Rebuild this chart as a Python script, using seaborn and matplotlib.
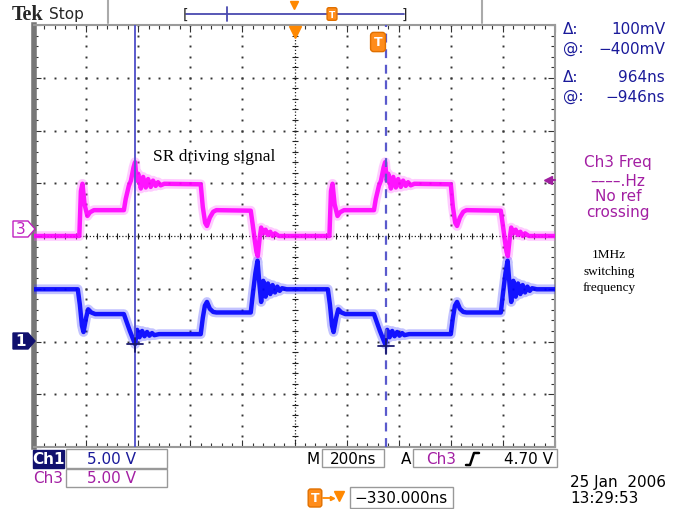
import numpy as np
import pandas as pd
import matplotlib
matplotlib.use("Agg")
import matplotlib.pyplot as plt
import seaborn as sns
from matplotlib.patches import Rectangle, Polygon
from matplotlib.lines import Line2D

# ---------------- data (time in ns, amplitude in divisions) ----------------
ch3_t = [-1000, -826, -820, -814, -806, -795, -785, -770, -655, -648, -636, -628, -618, -612, -606,
         -600, -590, -581, -571, -562, -552, -543, -533, -524, -514, -500, -360, -352, -343, -336,
         -325, -312, -300, -168, -160, -152, -146, -141, -134, -128, -120, -111, -102, -93, -84, -75, -60,
         134, 140, 146, 154, 165, 175, 190, 305, 312, 324, 332, 342, 348, 354,
         360, 370, 379, 389, 398, 408, 417, 427, 436, 446, 460, 600, 608, 617, 624,
         635, 648, 660, 792, 800, 808, 814, 819, 826, 832, 840, 849, 858, 867, 876, 885, 900, 1000]
ch3_v = [0.0, 0.0, 0.85, 0.99, 0.60, 0.38, 0.45, 0.49, 0.49, 0.70, 0.95, 1.05, 1.30, 1.40, 1.05,
         1.18, 0.90, 1.12, 0.92, 1.08, 0.93, 1.05, 0.95, 1.02, 0.96, 0.99, 0.98, 0.55, 0.25, 0.19,
         0.35, 0.46, 0.49, 0.48, 0.20, -0.10, -0.30, -0.38, -0.05, 0.16, 0.05, 0.12, 0.02, 0.08, 0.0, 0.05, 0.0,
         0.0, 0.85, 0.99, 0.60, 0.38, 0.45, 0.49, 0.49, 0.70, 0.95, 1.05, 1.30, 1.40, 1.05,
         1.18, 0.90, 1.12, 0.92, 1.08, 0.93, 1.05, 0.95, 1.02, 0.96, 0.99, 0.98, 0.55, 0.25, 0.19,
         0.35, 0.46, 0.49, 0.48, 0.20, -0.10, -0.30, -0.38, -0.05, 0.16, 0.05, 0.12, 0.02, 0.08, 0.0, 0.05, 0.0, 0.0]

ch1_t = [-1000, -832, -824, -816, -810, -800, -792, -780, -765, -655, -645, -632, -620, -612,
         -604, -595, -585, -576, -566, -557, -547, -538, -520, -360, -352, -344, -336, -325, -312,
         -300, -168, -160, -150, -142, -134, -128, -120, -111, -102, -93, -84, -75, -66, -57, -48, -30,
         128, 136, 144, 150, 160, 168, 180, 195, 305, 315, 328, 340, 348,
         356, 365, 375, 384, 394, 403, 413, 422, 440, 600, 608, 616, 624, 635, 648,
         660, 792, 800, 810, 818, 826, 832, 840, 849, 858, 867, 876, 885, 894, 903, 912, 930, 1000]
ch1_v = [-1.01, -1.01, -1.30, -1.70, -1.82, -1.55, -1.39, -1.45, -1.48, -1.48, -1.62, -1.80, -1.95, -2.05,
         -1.78, -1.92, -1.80, -1.90, -1.82, -1.89, -1.84, -1.88, -1.86, -1.86, -1.55, -1.32, -1.25, -1.38, -1.44,
         -1.45, -1.45, -1.10, -0.70, -0.47, -0.95, -1.25, -0.85, -1.15, -0.90, -1.10, -0.93, -1.07, -0.96, -1.04, -0.99, -1.01,
         -1.01, -1.30, -1.70, -1.82, -1.55, -1.39, -1.45, -1.48, -1.48, -1.62, -1.80, -1.95, -2.05,
         -1.78, -1.92, -1.80, -1.90, -1.82, -1.89, -1.84, -1.88, -1.86, -1.86, -1.55, -1.32, -1.25, -1.38, -1.44,
         -1.45, -1.45, -1.10, -0.70, -0.47, -0.95, -1.25, -0.85, -1.15, -0.90, -1.10, -0.93, -1.07, -0.96, -1.04, -0.99, -1.01, -1.01]

cursor_t = [-612, 352]
cursor_cross_v = [-2.05, -2.08]
trig_level_div = 1.06

readout_labels = ["Δ:", "@:", "Δ:", "@:"]
readout_values = ["100mV", "−400mV", "964ns", "−946ns"]
freq_lines = ["Ch3 Freq", "––––.Hz", "No ref", "crossing"]
note_lines = ["1MHz", "switching", "frequency"]
annotation = "SR driving signal"

# ---------------- figure ----------------
sns.set_style("white")
plt.rcParams["font.family"] = ["DejaVu Sans"]
W, H = 685, 510
fig = plt.figure(figsize=(6.85, 5.10), dpi=100)
fig.patch.set_facecolor("white")

def fx(x):
    return x / W

def fy(y):
    return 1 - y / H

ax = fig.add_axes([34 / W, 1 - 448 / H, 521 / W, 422 / H])
ax.set_xlim(-1000, 1000)
ax.set_ylim(-4, 4)
ax.set_facecolor("white")

xs_minor = np.arange(-1000, 1001, 40)
ys_minor = np.arange(-4, 4.001, 0.2)
for xv in range(-800, 801, 200):
    if xv == 0:
        continue
    ax.plot([xv] * len(ys_minor), ys_minor, ls="none", marker="s", ms=1.4, mew=0, color="#333333", zorder=1)
for yv in [-3, -2, -1, 1, 2, 3]:
    ax.plot(xs_minor, [yv] * len(xs_minor), ls="none", marker="s", ms=1.4, mew=0, color="#333333", zorder=1)
ax.axhline(0, color="#222222", lw=0.9, ls=(0, (1, 1.6)), zorder=1)
ax.axvline(0, color="#222222", lw=0.9, ls=(0, (1, 1.6)), zorder=1)
ax.plot(xs_minor, [0] * len(xs_minor), ls="none", marker="|", ms=4, mew=0.8, color="#222222", zorder=1)
ax.plot([0] * len(ys_minor), ys_minor, ls="none", marker="_", ms=4, mew=0.8, color="#222222", zorder=1)

for s in ax.spines.values():
    s.set_color("#9a9a9a")
    s.set_linewidth(1.5)
ax.spines["left"].set_linewidth(4)
ax.spines["left"].set_color("#777777")
ax.set_xticks(np.arange(-1000, 1001, 200))
ax.set_xticks(xs_minor, minor=True)
ax.set_yticks(np.arange(-4, 4.01, 1))
ax.set_yticks(ys_minor, minor=True)
ax.tick_params(which="both", direction="in", top=True, right=True, bottom=True, left=True,
               labelbottom=False, labelleft=False, color="#333333", width=0.8)
ax.tick_params(which="major", length=5)
ax.tick_params(which="minor", length=3)

df3 = pd.DataFrame({"t": ch3_t, "v": ch3_v})
df1 = pd.DataFrame({"t": ch1_t, "v": ch1_v})
for df, halo, core in [(df3, "#ff55ff", "#ff00ff"), (df1, "#3a3aff", "#0000ff")]:
    sns.lineplot(data=df, x="t", y="v", ax=ax, sort=False, estimator=None, color=halo, lw=7, alpha=0.3, zorder=3)
    sns.lineplot(data=df, x="t", y="v", ax=ax, sort=False, estimator=None, color=core, lw=3.2, alpha=0.9, zorder=4)
ax.set_xlabel("")
ax.set_ylabel("")

# cursors
ax.axvline(cursor_t[0], color="#5a5acc", lw=1.4, zorder=5)
ax.axvline(cursor_t[1], color="#5a5acc", lw=1.6, ls=(0, (4, 3)), zorder=5)
for ct, cv in zip(cursor_t, cursor_cross_v):
    ax.plot([ct - 30, ct + 30], [cv, cv], color="#181870", lw=1.3, zorder=6)
    ax.plot([ct, ct], [cv + 0.12, cv - 0.15], color="#181870", lw=1.3, zorder=6)

# trigger markers
ax.plot([0], [3.87], marker="v", ms=9, color="#ff8800", mec="#ff8800", clip_on=False, zorder=7)
ax.plot([975], [trig_level_div], marker="<", ms=6, color="#a01fa0", clip_on=False, zorder=7)
ax.plot([975, 1000], [trig_level_div, trig_level_div], color="#a01fa0", lw=1.5, clip_on=False, zorder=7)

# annotation text
fig.text(fx(153), fy(157), annotation, fontsize=12.5, family="Liberation Serif", ha="left", va="center", color="black")

fig.text(fx(378), fy(43), "T", fontsize=9, fontweight="bold", color="white", ha="center", va="center",
         bbox=dict(boxstyle="round,pad=0.25", fc="#ff8c1a", ec="#e07000"))

# ---------------- top bar ----------------
def fline(xs, ys, **kw):
    fig.add_artist(Line2D([fx(x) for x in xs], [fy(y) for y in ys], transform=fig.transFigure, **kw))

fig.text(fx(12), fy(15), "Tek", fontsize=14.5, fontweight="bold", family="Liberation Serif", ha="left", va="center")
fig.text(fx(49), fy(15), "Stop", fontsize=11, ha="left", va="center")
fline([108, 108], [0, 24], color="#aaaaaa", lw=1.5)
fline([482, 482], [0, 24], color="#aaaaaa", lw=1.5)
fline([186, 404], [15, 15], color="#4a4ab0", lw=1.3)
fline([227, 227], [8, 22], color="#4a4ab0", lw=1.3)
fig.text(fx(186), fy(15), "[", fontsize=10, ha="center", va="center")
fig.text(fx(404), fy(15), "]", fontsize=10, ha="center", va="center")
fline([294], [6], marker="v", ms=6, color="#ff8800", lw=0)
fig.text(fx(332), fy(15), "T", fontsize=6.5, fontweight="bold", color="white", ha="center", va="center",
         bbox=dict(boxstyle="round,pad=0.2", fc="#ff8c1a", ec="#e07000"))

# ---------------- right readouts ----------------
navy = "#1a1a9a"
for lab, val, y in zip(readout_labels, readout_values, [30, 49, 78, 97]):
    fig.text(fx(563), fy(y), lab, fontsize=11, color=navy, ha="left", va="center")
    fig.text(fx(665), fy(y), val, fontsize=11, color=navy, ha="right", va="center")

purple = "#a31fa3"
for s, y in zip(freq_lines, [163, 181, 197, 213]):
    fig.text(fx(618), fy(y), s, fontsize=11, color=purple, ha="center", va="center")
for s, y in zip(note_lines, [255, 272, 288]):
    fig.text(fx(609), fy(y), s, fontsize=9.5, family="Liberation Serif", color="black", ha="center", va="center")

# ---------------- channel markers ----------------
def marker_poly(cy, fc, ec):
    pts = [(13, cy - 8), (28, cy - 8), (35, cy), (28, cy + 8), (13, cy + 8)]
    fig.add_artist(Polygon([(fx(x), fy(y)) for x, y in pts], closed=True, transform=fig.transFigure,
                           fc=fc, ec=ec, lw=1))

marker_poly(230, "white", "#c020c0")
fig.text(fx(21), fy(230), "3", fontsize=11, color="#c020c0", ha="center", va="center")
marker_poly(342, "#10106e", "#10106e")
fig.text(fx(21), fy(342), "1", fontsize=11, fontweight="bold", color="white", ha="center", va="center")

# ---------------- bottom readouts ----------------
def frect(x0, y0, x1, y1, fc="none", ec="#999999", lw=1.0):
    fig.add_artist(Rectangle((fx(x0), fy(y1)), fx(x1) - fx(x0), fy(y0) - fy(y1), transform=fig.transFigure,
                             fc=fc, ec=ec, lw=lw))

frect(33, 451, 64, 469, fc="#10106e", ec="#10106e")
fig.text(fx(48.5), fy(460), "Ch1", fontsize=11, fontweight="bold", color="white", ha="center", va="center")
frect(66, 450, 167, 469)
fig.text(fx(111), fy(460), "5.00 V", fontsize=11, color=navy, ha="center", va="center")
fig.text(fx(48.5), fy(479), "Ch3", fontsize=11, color=purple, ha="center", va="center")
frect(66, 470, 167, 488)
fig.text(fx(111), fy(479), "5.00 V", fontsize=11, color=purple, ha="center", va="center")

fig.text(fx(313), fy(460), "M", fontsize=11, color="black", ha="center", va="center")
frect(322, 450, 384, 468)
fig.text(fx(353), fy(460), "200ns", fontsize=11, color="black", ha="center", va="center")
fig.text(fx(406), fy(460), "A", fontsize=11, color="black", ha="center", va="center")
frect(413, 450, 557, 468)
fig.text(fx(441), fy(460), "Ch3", fontsize=11, color=purple, ha="center", va="center")
fline([466, 470, 474, 479], [466, 466, 454, 454], color="black", lw=1.8)
fig.text(fx(553), fy(460), "4.70 V", fontsize=11, color="black", ha="right", va="center")

fig.text(fx(570), fy(483), "25 Jan  2006", fontsize=11, color="black", ha="left", va="center")
fig.text(fx(570), fy(499), "13:29:53", fontsize=11, color="black", ha="left", va="center")

fig.text(fx(315), fy(499), "T", fontsize=9, fontweight="bold", color="white", ha="center", va="center",
         bbox=dict(boxstyle="round,pad=0.2", fc="#ff8c1a", ec="#e07000"))
fline([323, 332], [499, 499], color="#ff8800", lw=1.3)
fline([332], [499], marker=">", ms=3, color="#ff8800", lw=0)
fline([339], [497], marker="v", ms=7, color="#ff8800", lw=0)
frect(350, 488, 453, 509)
fig.text(fx(401.5), fy(499), "−330.000ns", fontsize=11, color="black", ha="center", va="center")

fig.savefig("out.png", dpi=100)
